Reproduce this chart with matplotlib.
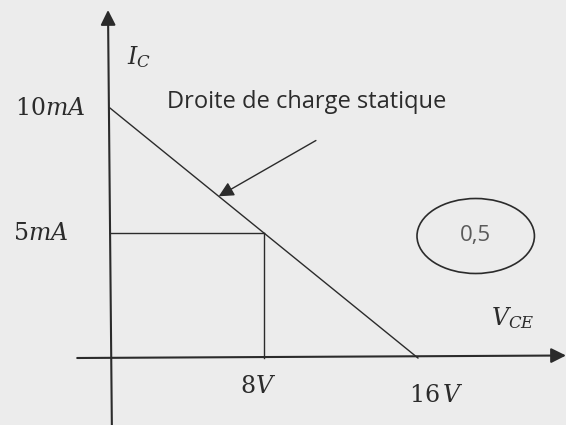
import matplotlib.pyplot as plt
from matplotlib.patches import Ellipse

# load line end points and operating point
vce_max = 16      # V, cut-off
ic_max = 10       # mA, saturation
vce_q = 8         # V
ic_q = 5          # mA

plt.rcParams['mathtext.fontset'] = 'dejavuserif'
ink = '#2b2b2b'
head = '-|>,head_length=0.9,head_width=0.45'

fig = plt.figure(figsize=(5.66, 4.25), dpi=100)
fig.patch.set_facecolor('#ececec')
ax = fig.add_axes([0, 0, 1, 1])
ax.set_facecolor('#ececec')
ax.set_xlim(-5.71, 23.69)
ax.set_ylim(-2.68, 14.32)
ax.axis('off')

# axes with arrow heads
ax.annotate('', xy=(23.69, 0.1), xytext=(-1.7, 0),
            arrowprops=dict(arrowstyle=head, color=ink, lw=1.5, shrinkA=0, shrinkB=0))
ax.annotate('', xy=(-0.1, 13.92), xytext=(0.1, -2.68),
            arrowprops=dict(arrowstyle=head, color=ink, lw=1.5, shrinkA=0, shrinkB=0))

# static load line
ax.plot([0, vce_max], [ic_max, 0], color=ink, lw=1.0)

# projections of the Q point
ax.plot([0, vce_q], [ic_q, ic_q], color=ink, lw=1.0)
ax.plot([vce_q, vce_q], [ic_q, 0], color=ink, lw=1.0)

# axis labels
ax.text(0.9, 12.05, r'$I_C$', fontsize=17, color=ink, va='center', ha='left')
ax.text(19.8, 1.6, r'$V_{CE}$', fontsize=17, color=ink, va='center', ha='left')

# tick values
ax.annotate(r'$%dmA$' % ic_max, xy=(0, ic_max), xytext=(-18, 0),
            textcoords='offset points', ha='right', va='center', fontsize=17, color=ink)
ax.annotate(r'$%dmA$' % ic_q, xy=(0, ic_q), xytext=(-30, 0),
            textcoords='offset points', ha='right', va='center', fontsize=17, color=ink)
ax.annotate(r'$%dV$' % vce_q, xy=(vce_q, 0), xytext=(-4, -20),
            textcoords='offset points', ha='center', va='center', fontsize=17, color=ink)
ax.annotate(r'$%d\,V$' % vce_max, xy=(vce_max, 0), xytext=(13, -27),
            textcoords='offset points', ha='center', va='center', fontsize=17, color=ink)

# label with arrow pointing at the load line
ax.text(2.95, 10.25, 'Droite de charge statique', fontsize=17, color=ink,
        family='Open Sans', va='center', ha='left')
x_a = 5.65
ax.annotate('', xy=(x_a, ic_max * (1 - x_a / vce_max)), xytext=(10.7, 8.7),
            arrowprops=dict(arrowstyle=head, color=ink, lw=1.0, shrinkA=0, shrinkB=0))

# mark
ax.add_patch(Ellipse((19.0, 4.88), 6.1, 3.0, fill=False, ec=ink, lw=1.2))
ax.text(19.0, 4.88, '0,5', fontsize=16, color='#5a5a5a', family='Open Sans',
        ha='center', va='center')

fig.savefig('out.png', dpi=100, facecolor=fig.get_facecolor())
